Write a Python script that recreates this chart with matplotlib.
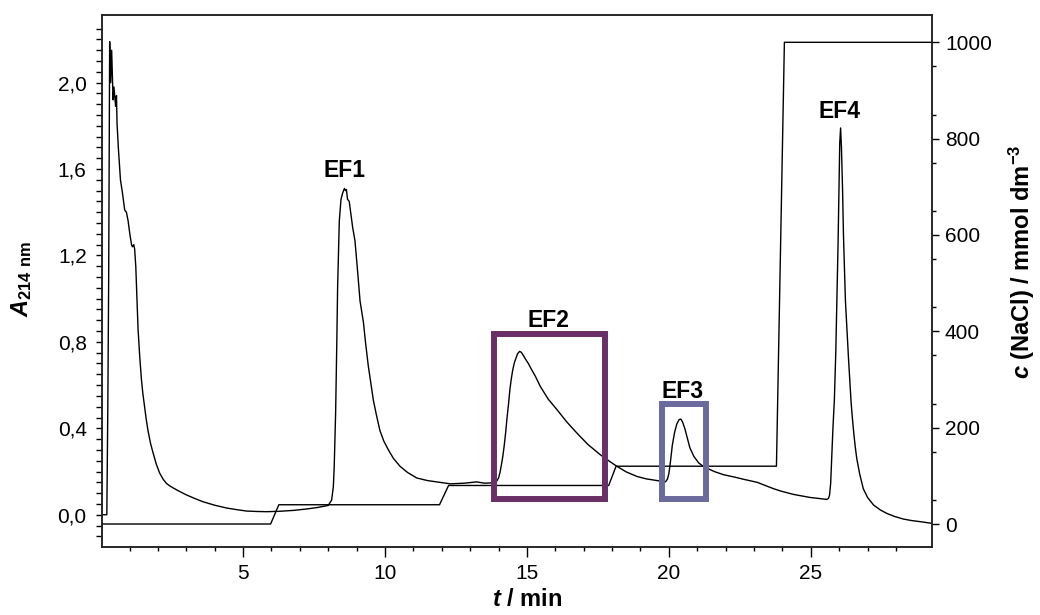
import matplotlib
matplotlib.use("Agg")
import matplotlib.pyplot as plt
from matplotlib.patches import Rectangle
from matplotlib.ticker import FixedLocator, FuncFormatter

plt.rcParams['font.family'] = ['Liberation Sans', 'DejaVu Sans']
plt.rcParams['mathtext.fontset'] = 'custom'
plt.rcParams['mathtext.rm'] = 'Liberation Sans:bold'
plt.rcParams['mathtext.bf'] = 'Liberation Sans:bold'
plt.rcParams['mathtext.it'] = 'Liberation Sans:italic:bold'

# ---- data: absorbance trace (left axis) ----
time_min = [0.03, 0.20, 0.235, 0.265, 0.30, 0.335, 0.37, 0.42, 0.45, 0.51,
            0.54, 0.56, 0.61, 0.68, 0.75, 0.83, 0.89, 0.95, 1.01, 1.07,
            1.10, 1.15, 1.18, 1.22, 1.26, 1.30, 1.36, 1.42, 1.47, 1.53,
            1.59, 1.65, 1.74, 1.83, 1.94, 2.06, 2.18, 2.30, 2.42, 2.7,
            3.0, 3.3, 3.59, 4.0, 4.42, 4.8, 5.12, 5.5, 5.83, 6.3,
            6.77, 7.2, 7.6, 8.0, 8.12, 8.18, 8.21, 8.26, 8.30, 8.33,
            8.39, 8.45, 8.51, 8.57, 8.61, 8.64, 8.68, 8.74, 8.79, 8.86,
            8.94, 9.02, 9.12, 9.18, 9.24, 9.32, 9.41, 9.5, 9.59, 9.7,
            9.82, 9.96, 10.12, 10.3, 10.53, 10.8, 11.12, 11.5, 11.94, 12.3,
            12.8, 13.23, 13.5, 13.9, 14.0, 14.05, 14.1, 14.15, 14.2, 14.25,
            14.3, 14.35, 14.4, 14.45, 14.5, 14.55, 14.6, 14.67, 14.74, 14.8,
            14.87, 14.95, 15.05, 15.15, 15.3, 15.47, 15.75, 16.06, 16.4, 16.76,
            17.15, 17.58, 17.9, 18.17, 18.5, 18.88, 19.2, 19.5, 19.88, 19.95,
            20.0, 20.06, 20.12, 20.2, 20.28, 20.36, 20.42, 20.48, 20.56, 20.64,
            20.74, 20.88, 21.05, 21.23, 21.6, 21.93, 22.29, 22.6, 22.87, 23.11,
            23.3, 23.5, 23.7, 23.93, 24.39, 24.97, 25.3, 25.56, 25.62, 25.66,
            25.70, 25.74, 25.78, 25.83, 25.88, 25.92, 25.96, 25.99, 26.02, 26.05,
            26.08, 26.12, 26.15, 26.19, 26.22, 26.28, 26.33, 26.38, 26.42, 26.47,
            26.52, 26.57, 26.62, 26.72, 26.85, 27.0, 27.21, 27.45, 27.68, 27.95,
            28.26, 28.55, 28.85, 29.27]
absorbance = [0.0, 0.0, 0.5, 1.09, 2.19, 2.0, 2.15, 1.92, 1.98, 1.89,
              1.94, 1.81, 1.69, 1.55, 1.49, 1.41, 1.40, 1.36, 1.30, 1.25,
              1.24, 1.25, 1.23, 1.15, 1.0, 0.86, 0.73, 0.625, 0.56, 0.50,
              0.44, 0.39, 0.33, 0.286, 0.235, 0.193, 0.165, 0.145, 0.133, 0.112,
              0.092, 0.075, 0.06, 0.044, 0.031, 0.023, 0.017, 0.015, 0.014, 0.016,
              0.02, 0.026, 0.033, 0.043, 0.068, 0.13, 0.22, 0.47, 0.78, 1.05,
              1.36, 1.46, 1.49, 1.51, 1.50, 1.505, 1.46, 1.45, 1.40, 1.33,
              1.27, 1.15, 0.99, 0.94, 0.89, 0.79, 0.69, 0.61, 0.53, 0.46,
              0.39, 0.34, 0.30, 0.26, 0.224, 0.195, 0.17, 0.158, 0.15, 0.143,
              0.146, 0.152, 0.146, 0.148, 0.17, 0.195, 0.23, 0.27, 0.32, 0.38,
              0.45, 0.51, 0.58, 0.63, 0.67, 0.70, 0.72, 0.745, 0.756, 0.752,
              0.738, 0.72, 0.70, 0.675, 0.64, 0.594, 0.535, 0.486, 0.43, 0.378,
              0.325, 0.278, 0.248, 0.224, 0.198, 0.177, 0.166, 0.16, 0.152, 0.165,
              0.19, 0.25, 0.32, 0.38, 0.42, 0.44, 0.443, 0.43, 0.40, 0.36,
              0.31, 0.27, 0.24, 0.222, 0.20, 0.185, 0.175, 0.165, 0.157, 0.15,
              0.14, 0.13, 0.12, 0.11, 0.094, 0.08, 0.075, 0.071, 0.075, 0.09,
              0.145, 0.27, 0.40, 0.53, 0.75, 0.99, 1.25, 1.50, 1.72, 1.79,
              1.70, 1.50, 1.30, 1.12, 0.99, 0.84, 0.72, 0.61, 0.52, 0.44,
              0.37, 0.31, 0.26, 0.19, 0.12, 0.08, 0.045, 0.022, 0.006, -0.008,
              -0.02, -0.027, -0.032, -0.04]

# ---- data: NaCl gradient (right axis) ----
grad_time = [0.03, 5.97, 6.26, 11.92, 12.24, 17.88, 18.14, 23.79, 24.07, 29.27]
grad_conc = [0, 0, 40, 40, 80, 80, 120, 120, 1000, 1000]

# ---- fractions (time range, absorbance range) ----
fraction_names = ['EF1', 'EF2', 'EF3', 'EF4']
fraction_label_t = [8.59, 15.75, 20.5, 26.0]
fraction_label_a = [1.561, 0.870, 0.539, 1.836]
box_names = ['EF2', 'EF3']
box_t = [(13.83, 17.74), (19.76, 21.32)]
box_a = [(0.074, 0.838), (0.074, 0.514)]
box_colors = ['#6B2F68', '#6A6A9C']

left_major = [0.0, 0.4, 0.8, 1.2, 1.6, 2.0]
right_major = [0, 200, 400, 600, 800, 1000]
x_major = [5, 10, 15, 20, 25]

fig = plt.figure(figsize=(10.4, 6.15), dpi=100)
ax = fig.add_axes([102 / 1040, (615 - 546.7) / 615, 830 / 1040, 531.7 / 615])
ax2 = ax.twinx()

ax.plot(time_min, absorbance, color='black', lw=1.0)
ax2.plot(grad_time, grad_conc, color='black', lw=1.0)

ax.set_xlim(0.03, 29.27)
ax.set_ylim(-0.148, 2.313)
ax2.set_ylim(-47.1, 1056.7)

for (t0, t1), (a0, a1), col in zip(box_t, box_a, box_colors):
    ax2.add_patch(Rectangle((t0, a0), t1 - t0, a1 - a0, transform=ax.transData,
                            fill=False, edgecolor=col, lw=4.3, joinstyle='miter',
                            zorder=5))
for name, tx, ay in zip(fraction_names, fraction_label_t, fraction_label_a):
    ax2.text(tx, ay, name, transform=ax.transData, ha='center', va='baseline',
             fontsize=16.5, fontweight='bold', zorder=6)

# ticks
ax.xaxis.set_major_locator(FixedLocator(x_major))
ax.xaxis.set_minor_locator(FixedLocator([i for i in range(1, 29) if i % 5]))
ax.yaxis.set_major_locator(FixedLocator(left_major))
minor_left = [round(-0.15 + 0.05 * i, 2) for i in range(49)]
ax.yaxis.set_minor_locator(FixedLocator([v for v in minor_left if abs(v / 0.4 - round(v / 0.4)) > 1e-6]))
ax.yaxis.set_major_formatter(FuncFormatter(lambda v, p: f"{v:.1f}".replace('.', ',')))
ax2.yaxis.set_major_locator(FixedLocator(right_major))
ax2.yaxis.set_minor_locator(FixedLocator([v for v in range(50, 1000, 100)]))

ax.tick_params(axis='x', which='major', direction='out', length=7.2, width=1.0,
               labelsize=15, pad=5.5, top=False)
ax.tick_params(axis='x', which='minor', direction='out', length=3, width=1.0, top=False)
ax.tick_params(axis='y', which='major', direction='out', length=4.5, width=1.0,
               labelsize=15, pad=6.5)
ax.tick_params(axis='y', which='minor', direction='out', length=4.5, width=1.0)
ax2.tick_params(axis='y', which='major', direction='out', length=5, width=1.0,
                labelsize=15, pad=4.3)
ax2.tick_params(axis='y', which='minor', direction='out', length=2.6, width=1.0)

for a in (ax, ax2):
    for s in a.spines.values():
        s.set_linewidth(1.1)
        s.set_color('#222222')

ax.set_xlabel(r'$t$ / min', fontsize=17, fontweight='bold', va='baseline')
ax.xaxis.set_label_coords((526.7 - 102) / 830, -(606 - 546.7) / 531.7)
ax.set_ylabel(r'$A_{214\ \mathrm{nm}}$', fontsize=17, va='center', ha='center')
ax.yaxis.set_label_coords((22 - 102) / 830, (546.7 - 279) / 531.7)
ax2.set_ylabel(r'$c$ (NaCl) / mmol dm$^{-3}$', fontsize=17, fontweight='bold',
               rotation=90, va='center', ha='center')
ax2.yaxis.set_label_coords((1022 - 102) / 830, (546.7 - 262) / 531.7)

fig.savefig('out.png', dpi=100)
